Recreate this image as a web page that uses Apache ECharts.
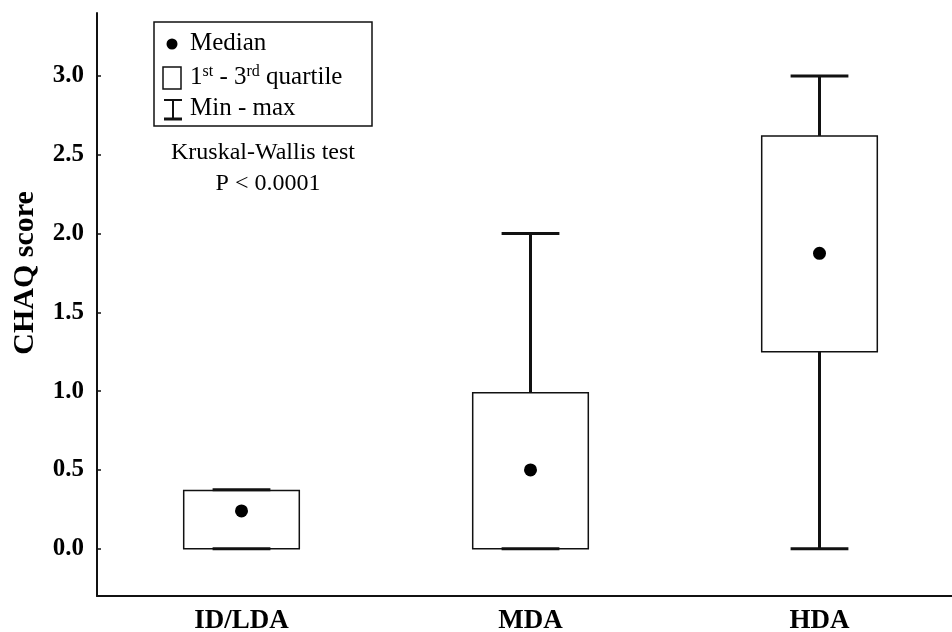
<!DOCTYPE html>
<html>
<head>
<meta charset="utf-8">
<script src="https://cdn.jsdelivr.net/npm/echarts@6/dist/echarts.min.js"></script>
<style>html,body{margin:0;padding:0;background:#fff}#c{width:952px;height:632px}</style>
</head>
<body>
<div id="c"></div>
<script>
const categories = ['ID/LDA', 'MDA', 'HDA'];
const minValues = [0, 0, 0];
const q1Values = [0, 0, 1.25];
const medianValues = [0.24, 0.5, 1.875];
const q3Values = [0.37, 0.99, 2.62];
const maxValues = [0.375, 2.0, 3.0];
const yTicks = [0, 0.5, 1.0, 1.5, 2.0, 2.5, 3.0];

const FONT = "'Liberation Serif', 'Times New Roman', serif";
const INK = '#111';

const data = categories.map((c, i) => [i, minValues[i], q1Values[i], medianValues[i], q3Values[i], maxValues[i]]);

const chart = echarts.init(document.getElementById('c'));
chart.setOption({
  backgroundColor: '#fff',
  animation: false,
  grid: { left: 97, top: 13, width: 867, height: 583, outerBoundsMode: 'none', containLabel: false },
  xAxis: {
    type: 'category',
    data: categories,
    boundaryGap: true,
    axisLine: { onZero: false, lineStyle: { color: INK, width: 2 } },
    axisTick: { inside: true, length: 4, alignWithLabel: true, lineStyle: { color: INK, width: 1.5 } },
    axisLabel: { color: '#000', fontFamily: FONT, fontWeight: 'bold', fontSize: 27, margin: 12 },
    splitLine: { show: false }
  },
  yAxis: {
    type: 'value',
    min: -0.3,
    max: 3.4,
    axisLine: { show: true, lineStyle: { color: INK, width: 2 } },
    axisTick: { show: true, inside: true, length: 4, customValues: yTicks, lineStyle: { color: INK, width: 1.5 } },
    axisLabel: { customValues: yTicks, color: '#000', fontFamily: FONT, fontWeight: 'bold', fontSize: 25, margin: 13,
      formatter: v => Number(v).toFixed(1) },
    splitLine: { show: false }
  },
  series: [{
    type: 'custom',
    data: data,
    encode: { x: 0, y: [1, 2, 3, 4, 5] },
    renderItem: function (params, api) {
      const x = api.value(0);
      const band = api.size([1, 0])[0];
      const boxW = band * 0.4, capW = band * 0.2;
      const pMin = api.coord([x, api.value(1)]);
      const pQ1 = api.coord([x, api.value(2)]);
      const pMed = api.coord([x, api.value(3)]);
      const pQ3 = api.coord([x, api.value(4)]);
      const pMax = api.coord([x, api.value(5)]);
      const cx = pMed[0];
      const thick = { stroke: INK, lineWidth: 3 };
      return {
        type: 'group',
        children: [
          { type: 'rect', shape: { x: cx - boxW / 2, y: pQ3[1], width: boxW, height: pQ1[1] - pQ3[1] },
            style: { fill: '#fff', stroke: INK, lineWidth: 1.5 } },
          { type: 'line', shape: { x1: cx, y1: pMax[1], x2: cx, y2: pQ3[1] }, style: thick },
          { type: 'line', shape: { x1: cx, y1: pQ1[1], x2: cx, y2: pMin[1] }, style: thick },
          { type: 'line', shape: { x1: cx - capW / 2, y1: pMax[1], x2: cx + capW / 2, y2: pMax[1] }, style: thick },
          { type: 'line', shape: { x1: cx - capW / 2, y1: pMin[1], x2: cx + capW / 2, y2: pMin[1] }, style: thick },
          { type: 'circle', shape: { cx: cx, cy: pMed[1], r: 6.5 }, style: { fill: '#000' } }
        ]
      };
    }
  }],
  graphic: [
    { type: 'text', x: 25, y: 273, rotation: Math.PI / 2,
      style: { text: 'CHAQ score', font: "bold 30px 'Liberation Serif', serif", fill: '#000', align: 'center', verticalAlign: 'middle' } },
    { type: 'rect', shape: { x: 154, y: 22, width: 218, height: 104 },
      style: { fill: '#fff', stroke: INK, lineWidth: 1.5 } },
    { type: 'circle', shape: { cx: 172, cy: 44, r: 5.5 }, style: { fill: '#000' } },
    { type: 'text', x: 190, y: 43,
      style: { text: 'Median', font: "25px 'Liberation Serif', serif", fill: '#000', verticalAlign: 'middle' } },
    { type: 'rect', shape: { x: 163, y: 67, width: 18, height: 22 },
      style: { fill: '#fff', stroke: INK, lineWidth: 1.5 } },
    { type: 'text', x: 190, y: 77,
      style: {
        text: '1{sup|st} - 3{sup|rd} quartile',
        font: "25px 'Liberation Serif', serif", fill: '#000', verticalAlign: 'middle',
        rich: { sup: { fontSize: 16, fontFamily: FONT, verticalAlign: 'top', padding: [0, 0, 10, 0] } }
      } },
    { type: 'line', shape: { x1: 164, y1: 100, x2: 182, y2: 100 }, style: { stroke: INK, lineWidth: 2 } },
    { type: 'line', shape: { x1: 173, y1: 100, x2: 173, y2: 119 }, style: { stroke: INK, lineWidth: 2 } },
    { type: 'line', shape: { x1: 164, y1: 119, x2: 182, y2: 119 }, style: { stroke: INK, lineWidth: 3 } },
    { type: 'text', x: 190, y: 108,
      style: { text: 'Min - max', font: "25px 'Liberation Serif', serif", fill: '#000', verticalAlign: 'middle' } },
    { type: 'text', x: 263, y: 153,
      style: { text: 'Kruskal-Wallis test', font: "24px 'Liberation Serif', serif", fill: '#000', align: 'center', verticalAlign: 'middle' } },
    { type: 'text', x: 268, y: 184,
      style: { text: 'P < 0.0001', font: "24px 'Liberation Serif', serif", fill: '#000', align: 'center', verticalAlign: 'middle' } }
  ]
});
</script>
</body>
</html>
